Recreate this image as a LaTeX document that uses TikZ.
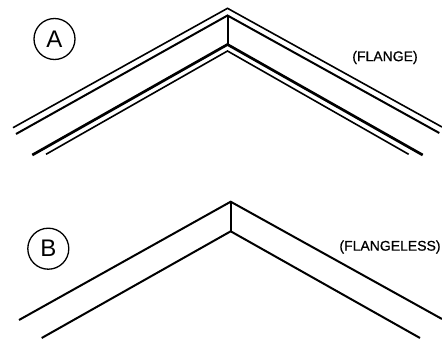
\documentclass[tikz,border=0pt]{standalone}
\usepackage{fontspec}
\setmainfont{Liberation Sans}
\newfontfamily\tagfont[FakeBold=0.8]{Liberation Sans}
\tikzset{
  edgeline/.style={line width=2pt,line cap=butt,line join=miter,black},
  thickline/.style={line width=2.7pt,line cap=butt,line join=miter,black},
  thinline/.style={line width=1.6pt,line cap=butt,line join=miter,black},
  bubble/.style={circle,draw=black,line width=1.3pt,minimum size=41pt,inner sep=0pt,font=\fontsize{24}{24}\selectfont},
  tag/.style={inner sep=0pt,font=\tagfont\fontsize{14}{16}\selectfont}
}
\begin{document}
\begin{tikzpicture}[x=1pt,y=-1pt]
\useasboundingbox (0,0) rectangle (442,338);
% A
\coordinate (a1l) at (13,127.7);
\coordinate (a1t) at (227.5,8.3);
\coordinate (a1r) at (442,127);
\coordinate (a2l) at (16,134);
\coordinate (a2t) at (227.5,15.5);
\coordinate (a2r) at (439.3,133);
\coordinate (a3l) at (32.3,155);
\coordinate (a3t) at (227.5,44.5);
\coordinate (a3r) at (422.7,155);
\coordinate (a4l) at (46,154.3);
\coordinate (a4t) at (227.5,51);
\coordinate (a4r) at (408.7,154.3);
\draw[thinline] (a1l) -- (a1t) -- (a1r);
\draw[edgeline] (a2l) -- (a2t) -- (a2r);
\draw[thickline] (a3l) -- (a3t) -- (a3r);
\draw[thinline] (a4l) -- (a4t) -- (a4r);
\draw[edgeline] (a2t) -- (a3t);
% B
\coordinate (b1l) at (19,320);
\coordinate (b1t) at (230.7,201.7);
\coordinate (b1r) at (442,319);
\coordinate (b2l) at (41.7,338);
\coordinate (b2t) at (230.7,231.3);
\coordinate (b2r) at (420,338);
\draw[edgeline] (b1l) -- (b1t) -- (b1r);
\draw[edgeline] (b2l) -- (b2t) -- (b2r);
\draw[edgeline] (b1t) -- (b2t);
% labels
\node[bubble] (circleA) at (54.5,39) {A};
\node[bubble] (circleB) at (48.3,248.7) {B};
\node[tag] (flange) at (385,57.5) {(FLANGE)};
\node[tag] (flangeless) at (390,247) {(FLANGELESS)};
\end{tikzpicture}
\end{document}
